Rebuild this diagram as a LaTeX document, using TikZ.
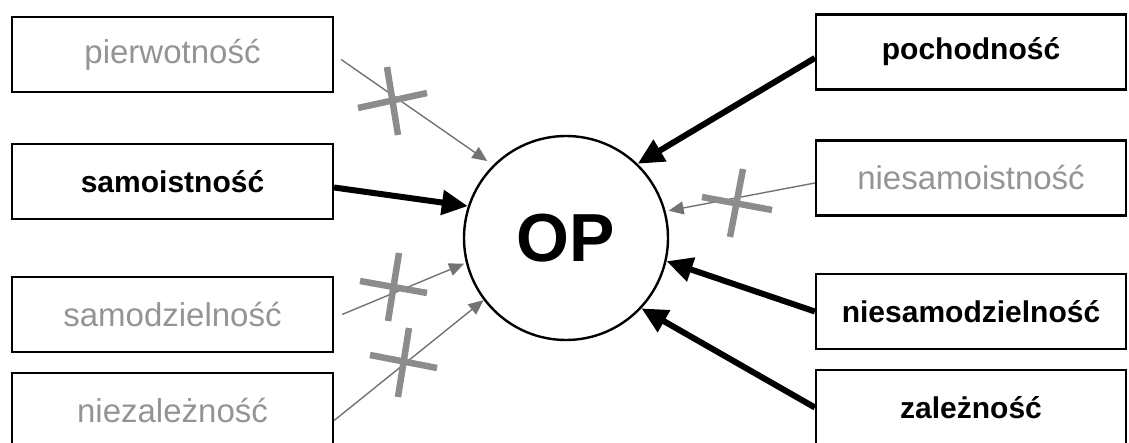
\documentclass[tikz,border=0pt]{standalone}
\usepackage{fontspec}
\setmainfont{Liberation Sans}
\usetikzlibrary{arrows.meta}
\begin{document}
\begin{tikzpicture}[x=1pt,y=-1pt,
    box/.style={draw,line width=2.2pt,minimum height=75pt,inner sep=0pt},
    leftbox/.style={box,minimum width=321pt},
    rightbox/.style={box,minimum width=310pt},
    yes/.style={font=\fontsize{30}{36}\selectfont\bfseries},
    nope/.style={text=black!42,font=\fontsize{33}{40}\selectfont},
    strong/.style={line width=6pt,-{Triangle[length=26pt,width=24pt]}},
    weak/.style={black!55,line width=1.4pt,-{Triangle[length=15pt,width=13pt]}},
    nocross/.style={black!45,line width=6.5pt}]
    \useasboundingbox (0,0) rectangle (1129,443);
    % the centre
    \node[circle,draw,line width=2.4pt,minimum size=204pt,inner sep=0pt,
          font=\fontsize{68}{80}\selectfont\bfseries] (op) at (566,238) {OP};
    % left column
    \node[leftbox,nope] (pierw)   at (172.5, 54.5) {pierwotność};
    \node[leftbox,yes]  (samoist) at (172.5,181.5) {samoistność};
    \node[leftbox,nope] (samodz)  at (172.5,314.5) {samodzielność};
    \node[leftbox,nope] (niezal)  at (172.5,410.5) {niezależność};
    % right column
    \node[rightbox,yes]  (poch)       at (971, 52.0) {pochodność};
    \node[rightbox,nope] (niesamoist) at (971,178.0) {niesamoistność};
    \node[rightbox,yes]  (niesamodz)  at (971,311.5) {niesamodzielność};
    \node[rightbox,yes]  (zal)        at (971,407.5) {zależność};
    % arrows that hold
    \draw[strong] ([yshift=-6pt]samoist.east) -- (op.162);
    \draw[strong] ([yshift=-6pt]poch.west) -- (op.46);
    \draw[strong] (niesamodz.west) -- (op.347);
    \draw[strong] (zal.west) -- (op.317);
    % arrows that do not hold
    \draw[weak,shorten >=7pt] ([shift={(7pt,-5pt)}]pierw.east) -- (op.135);
    \draw[weak,shorten >=3pt] ([yshift=-5pt]niesamoist.west) -- (op.15);
    \draw[weak,shorten >=2pt] ([xshift=8pt]samodz.east) -- (op.194);
    \draw[weak] ([yshift=-10pt]niezal.east) -- (op.217);
    % crossed out
    \draw[nocross] (387,67) -- (398,135) (358,108) -- (427,93);
    \draw[nocross] (399,253) -- (388,321) (360,281) -- (427,293);
    \draw[nocross] (409,328) -- (398,397) (370,355) -- (437,368);
    \draw[nocross] (743,169) -- (730,237) (702,197) -- (772,210);
\end{tikzpicture}
\end{document}
